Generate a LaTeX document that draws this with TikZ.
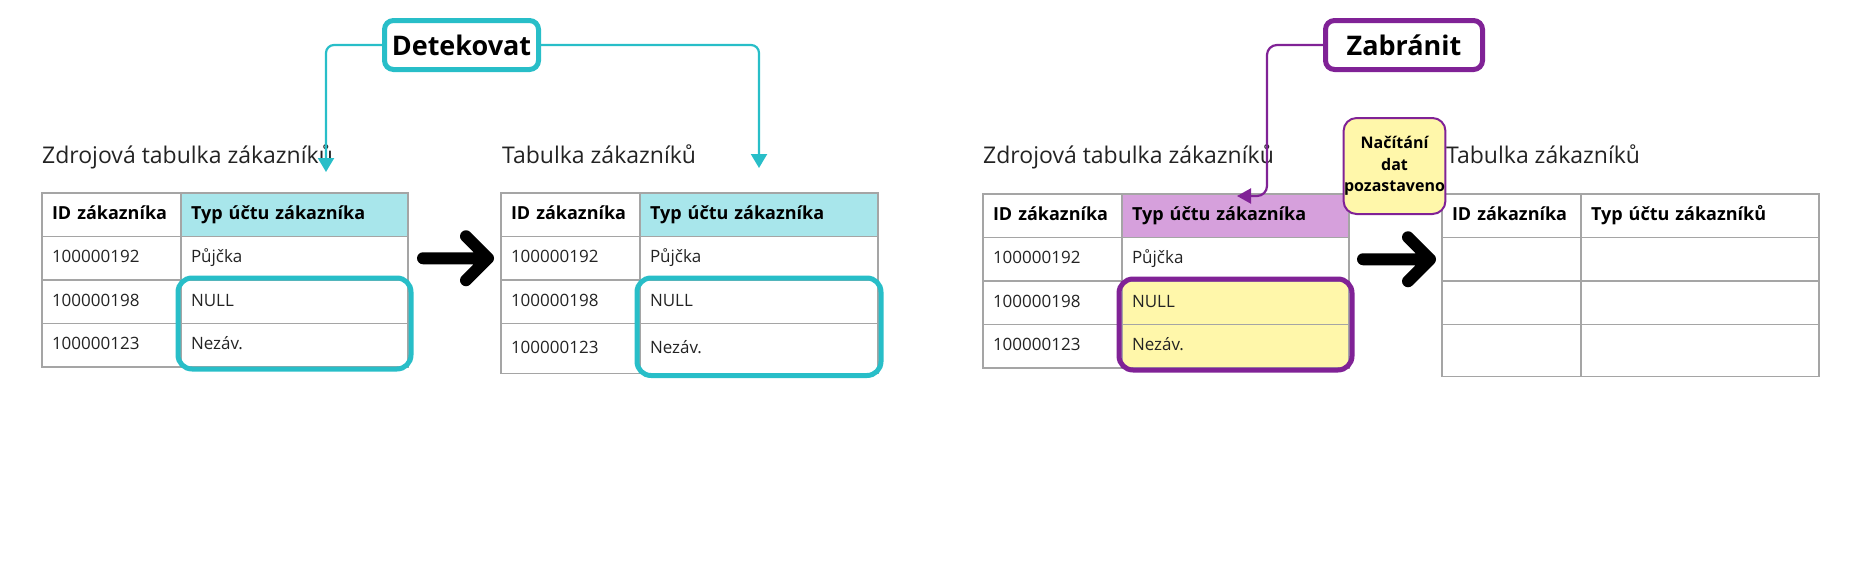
\documentclass[tikz,border=0pt]{standalone}
\usepackage{fontspec}
\setmainfont{Open Sans}
\usetikzlibrary{arrows.meta,positioning,fit}

\definecolor{detcyan}{RGB}{40,190,200}
\definecolor{detfill}{RGB}{168,230,235}
\definecolor{zabpurple}{RGB}{128,34,150}
\definecolor{zabfill}{RGB}{214,160,220}
\definecolor{notefill}{RGB}{255,247,170}
\definecolor{tabline}{RGB}{165,165,165}
\definecolor{txt}{RGB}{35,35,35}

\begin{document}
\begin{tikzpicture}[x=1pt, y=1pt]

	\tikzstyle{idcell}=[rectangle, draw=tabline, line width=1.3pt, outer sep=0pt, inner xsep=10pt, inner ysep=0pt, text width=119pt, minimum height=43.5pt, text height=13pt, text depth=4pt, align=left, text=txt, font=\fontsize{17}{20}\selectfont]
	\tikzstyle{typcell}=[idcell, text width=207pt]
	\tikzstyle{widecell}=[idcell, text width=218pt]
	\tikzstyle{head}=[text=black, font=\bfseries\fontsize{18}{21}\selectfont]
	\tikzstyle{title}=[anchor=base west, inner sep=0pt, text=txt, font=\fontsize{23}{27}\selectfont]
	\tikzstyle{det}=[rectangle, rounded corners=9pt, draw=detcyan, line width=5pt, fill=white, minimum width=154pt, minimum height=49pt, text=black, font=\bfseries\fontsize{27}{32}\selectfont]
	\tikzstyle{zab}=[det, draw=zabpurple, minimum width=157pt]
	\tikzstyle{dethl}=[rectangle, rounded corners=14pt, draw=detcyan, line width=5pt, inner xsep=3pt, inner ysep=2pt]
	\tikzstyle{zabhl}=[dethl, draw=zabpurple]
	\tikzstyle{detline}=[-{Triangle[width=16pt,length=14pt]}, detcyan, line width=2.2pt, rounded corners=8pt]
	\tikzstyle{zabline}=[-{Triangle[width=15pt,length=14pt]}, zabpurple, line width=2.2pt, rounded corners=10pt]
	\tikzstyle{note}=[rectangle, rounded corners=13pt, draw=zabpurple, line width=2pt, fill=notefill, minimum width=101pt, minimum height=96pt, inner sep=0.5pt, align=center, text=black, font=\bfseries\fontsize{16}{21.5}\selectfont]
	\tikzstyle{bigarrow}=[black, line width=12pt, line cap=round, line join=round]

	\useasboundingbox (0,0) rectangle (1868,-560);

	% Detect: source table
	\node[title] (ta) at (42,-163) {Zdrojová tabulka zákazníků};
	\node[idcell, head, anchor=north west] (a1) at (42,-193) {ID zákazníka};
	\node[typcell, head, fill=detfill, right=0pt of a1] (a2) {Typ účtu zákazníka};
	\node[idcell, below=0pt of a1] (a3) {100000192};
	\node[typcell, below=0pt of a2] (a4) {Půjčka};
	\node[idcell, below=0pt of a3] (a5) {100000198};
	\node[typcell, below=0pt of a4] (a6) {NULL};
	\node[idcell, below=0pt of a5] (a7) {100000123};
	\node[typcell, below=0pt of a6] (a8) {Nezáv.};

	% Detect: target table
	\node[title] (tb) at (502,-163) {Tabulka zákazníků};
	\node[idcell, head, anchor=north west] (b1) at (501,-193) {ID zákazníka};
	\node[widecell, head, fill=detfill, right=0pt of b1] (b2) {Typ účtu zákazníka};
	\node[idcell, below=0pt of b1] (b3) {100000192};
	\node[widecell, below=0pt of b2] (b4) {Půjčka};
	\node[idcell, below=0pt of b3] (b5) {100000198};
	\node[widecell, below=0pt of b4] (b6) {NULL};
	\node[idcell, below=0pt of b5, minimum height=50pt] (b7) {100000123};
	\node[widecell, below=0pt of b6, minimum height=50pt] (b8) {Nezáv.};

	\node[dethl, fit=(a6)(a8)] (h1) {};
	\node[dethl, fit=(b6)(b8)] (h2) {};

	\draw[bigarrow] ([xshift=15pt]a4.east) -- ([xshift=-13pt]b3.west) ++(-22,22) -- ([xshift=-13pt]b3.west) -- ++(-22,-22);

	\node[det] (det) at (461.5,-45) {Detekovat};
	\coordinate (dl) at (326,-172);
	\coordinate (dr) at (759,-168);
	\draw[detline] (det.west) -| (dl);
	\draw[detline] (det.east) -| (dr);

	% Prevent: source table
	\node[title] (tc) at (983,-163) {Zdrojová tabulka zákazníků};
	\node[idcell, head, anchor=north west] (c1) at (983,-194) {ID zákazníka};
	\node[typcell, head, fill=zabfill, right=0pt of c1] (c2) {Typ účtu zákazníka};
	\node[idcell, below=0pt of c1] (c3) {100000192};
	\node[typcell, below=0pt of c2] (c4) {Půjčka};
	\node[idcell, below=0pt of c3] (c5) {100000198};
	\node[typcell, fill=notefill, below=0pt of c4] (c6) {NULL};
	\node[idcell, below=0pt of c5] (c7) {100000123};
	\node[typcell, fill=notefill, below=0pt of c6] (c8) {Nezáv.};

	% Prevent: target table (empty)
	\node[title] (td) at (1446,-163) {Tabulka zákazníků};
	\node[idcell, head, anchor=north west] (d1) at (1442,-194) {ID zákazníka};
	\node[widecell, head, right=0pt of d1] (d2) {Typ účtu zákazníků};
	\node[idcell, below=0pt of d1] (d3) {};
	\node[widecell, below=0pt of d2] (d4) {};
	\node[idcell, below=0pt of d3] (d5) {};
	\node[widecell, below=0pt of d4] (d6) {};
	\node[idcell, below=0pt of d5, minimum height=52pt] (d7) {};
	\node[widecell, below=0pt of d6, minimum height=52pt] (d8) {};

	\node[zabhl, fit=(c6)(c8)] (h3) {};

	\draw[bigarrow] ([xshift=14pt]c4.east) -- ([xshift=-12pt]d3.west) ++(-22,22) -- ([xshift=-12pt]d3.west) -- ++(-22,-22);

	\node[zab] (zab) at (1404,-45) {Zabránit};
	\coordinate (zl) at (1237,-196);
	\draw[zabline] (zab.west) -| ([xshift=30pt]zl) -- (zl);

	\node[note] (nt) at (1394.5,-166) {Načítání\\dat\\pozastaveno};

\end{tikzpicture}
\end{document}
